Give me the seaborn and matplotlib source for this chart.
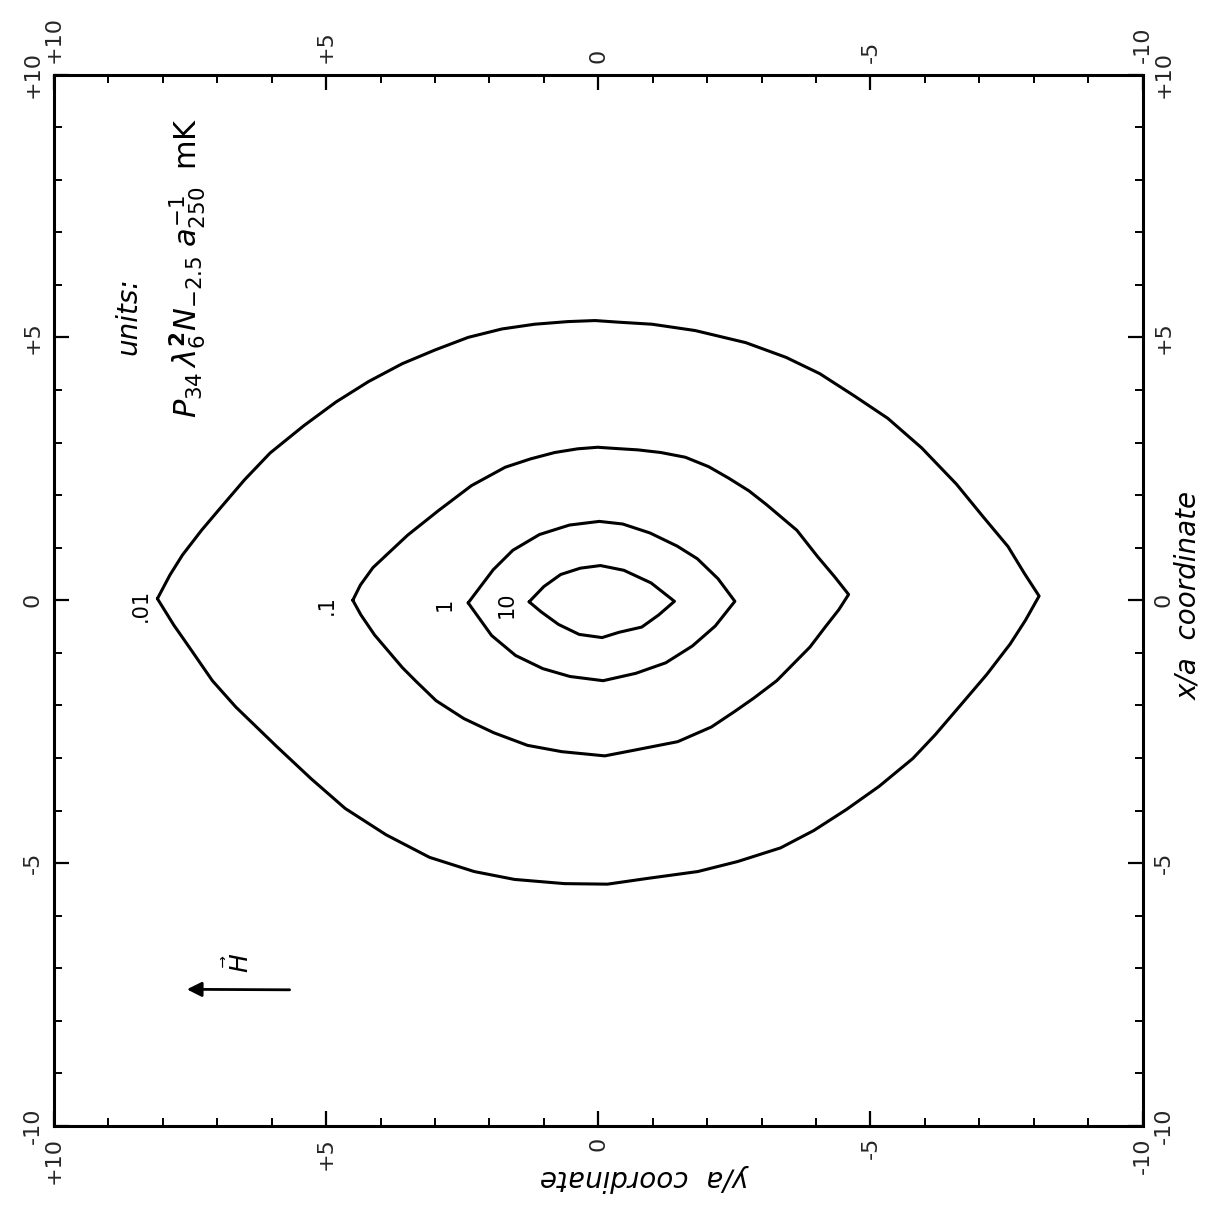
import numpy as np
import pandas as pd
import matplotlib
matplotlib.use("Agg")
import matplotlib.pyplot as plt
import seaborn as sns
from matplotlib.ticker import MultipleLocator

# Contour levels, in units of P34 λ6^2 N-2.5 a250^-1 mK
levels = [".01", ".1", "1", "10"]

# Points along each closed contour: ya = y/a (horizontal), xa = x/a (vertical)
ya_001 = [8.10, 7.87, 7.64, 7.29, 6.93, 6.50, 6.03, 5.41, 4.82, 4.22, 3.60, 3.00, 2.39,
          1.77, 1.17, 0.56, 0.06, -0.36, -0.99, -1.78, -2.71, -3.45, -4.07, -4.70, -5.32,
          -5.94, -6.58, -7.07, -7.53, -7.83, -8.10,
          -7.85, -7.57, -7.14, -6.67, -6.19, -5.78, -5.16, -4.56, -3.96, -3.35, -2.56,
          -1.83, -0.91, -0.17, 0.62, 1.54, 2.28, 3.10, 3.90, 4.65, 5.27, 5.91, 6.28,
          6.66, 7.09, 7.47, 7.80]
xa_001 = [0.03, 0.48, 0.86, 1.33, 1.77, 2.29, 2.80, 3.32, 3.77, 4.16, 4.50, 4.76, 5.00,
          5.16, 5.25, 5.30, 5.32, 5.29, 5.25, 5.13, 4.90, 4.62, 4.31, 3.89, 3.46,
          2.90, 2.21, 1.59, 1.02, 0.51, 0.08,
          -0.38, -0.83, -1.41, -1.98, -2.56, -3.01, -3.54, -3.98, -4.38, -4.71, -4.97,
          -5.16, -5.29, -5.40, -5.39, -5.31, -5.16, -4.89, -4.46, -3.96, -3.40, -2.78, -2.41,
          -2.03, -1.53, -0.96, -0.47]

ya_01 = [4.51, 4.37, 4.14, 3.80, 3.50, 2.93, 2.33, 1.71, 1.24, 0.80, 0.38, 0.01, -0.27,
         -0.73, -1.15, -1.60, -2.03, -2.40, -2.77, -3.09, -3.65, -4.03, -4.34, -4.60,
         -4.42, -4.17, -3.89, -3.28, -2.86, -2.50, -2.08, -1.46, -0.67, -0.12,
         0.67, 1.30, 1.92, 2.47, 2.98, 3.35, 3.60, 4.11, 4.36]
xa_01 = [0.00, 0.29, 0.62, 0.95, 1.24, 1.71, 2.18, 2.53, 2.69, 2.81, 2.88, 2.91, 2.89,
         2.86, 2.81, 2.72, 2.54, 2.32, 2.08, 1.82, 1.33, 0.83, 0.45, 0.11,
         -0.18, -0.51, -0.89, -1.53, -1.86, -2.12, -2.41, -2.69, -2.85, -2.96,
         -2.88, -2.76, -2.52, -2.25, -1.91, -1.54, -1.28, -0.66, -0.28]

ya_1 = [2.39, 1.93, 1.57, 1.08, 0.53, -0.02, -0.45, -0.95, -1.45, -1.82, -2.20, -2.51,
        -2.15, -1.73, -1.24, -0.69, -0.09, 0.52, 1.02, 1.52, 1.96]
xa_1 = [-0.05, 0.58, 0.95, 1.25, 1.43, 1.50, 1.45, 1.28, 1.03, 0.79, 0.41, -0.02,
        -0.49, -0.87, -1.19, -1.39, -1.53, -1.45, -1.30, -1.05, -0.67]

ya_10 = [1.27, 1.00, 0.69, 0.33, -0.04, -0.47, -0.97, -1.40,
         -1.11, -0.80, -0.38, -0.07, 0.35, 0.73, 1.05]
xa_10 = [-0.03, 0.26, 0.49, 0.61, 0.66, 0.57, 0.33, -0.02,
         -0.28, -0.51, -0.61, -0.71, -0.65, -0.46, -0.22]

# Where each level is written, just outside the left cusp
label_ya = [8.40, 4.98, 2.82, 1.69]
label_xa = [-0.10, -0.10, -0.08, -0.08]

# Field direction arrow (tail, head) and its label
arrow_tail = (5.62, -7.41)
arrow_head = (7.61, -7.40)
h_label = (6.61, -6.89)

tick_major = [10, 5, 0, -5, -10]
tick_text = ["+10", "+5", "0", "-5", "-10"]

frames = []
for lev, ya, xa in zip(levels, [ya_001, ya_01, ya_1, ya_10], [xa_001, xa_01, xa_1, xa_10]):
    ya_c = list(ya) + [ya[0]]
    xa_c = list(xa) + [xa[0]]
    frames.append(pd.DataFrame({"ya": ya_c, "xa": xa_c, "level": lev,
                                "step": np.arange(len(ya_c))}))
df = pd.concat(frames, ignore_index=True)

sns.set_theme(style="ticks")
plt.rcParams["font.family"] = ["DejaVu Sans"]
plt.rcParams["mathtext.fontset"] = "dejavusans"

W, H = 1227, 1206
fig = plt.figure(figsize=(W / 100, H / 100), dpi=100, facecolor="white")
ax = fig.add_axes([54 / W, 1 - 1126 / H, (1142.5 - 54) / W, (1126 - 74.5) / H])
ax.set_facecolor("white")

sns.lineplot(data=df, x="ya", y="xa", units="level", estimator=None, sort=False,
             color="black", lw=2.2, ax=ax, legend=False)
for line in ax.get_lines():
    line.set_solid_joinstyle("round")

ax.set_xlim(10, -10)
ax.set_ylim(-10, 10)

for spine in ax.spines.values():
    spine.set_visible(True)
    spine.set_linewidth(2.2)
    spine.set_color("black")

ax.set_xticks(tick_major)
ax.set_xticklabels(tick_text)
ax.set_yticks(tick_major)
ax.set_yticklabels(tick_text)
ax.xaxis.set_minor_locator(MultipleLocator(1))
ax.yaxis.set_minor_locator(MultipleLocator(1))
ax.tick_params(which="both", direction="in", top=True, right=True, bottom=True, left=True,
               labeltop=True, labelright=True, labelbottom=True, labelleft=True,
               color="black", labelsize=16, pad=8)
ax.tick_params(which="major", length=11, width=1.6)
ax.tick_params(which="minor", length=6, width=1.4)
for lab in ax.get_xticklabels(which="major"):
    lab.set_rotation(90)
for lab in ax.get_yticklabels(which="major"):
    lab.set_rotation(90)
    lab.set_verticalalignment("center")
ax.set_xlabel("")
ax.set_ylabel("")

# Level labels
for txt, xv, yv in zip(levels, label_ya, label_xa):
    ax.text(xv, yv, txt, rotation=90, ha="center", va="center", fontsize=15,
            color="black")

# Field direction
ax.annotate("", xy=arrow_head, xytext=arrow_tail,
            arrowprops=dict(arrowstyle="-|>", color="black", lw=2.0, mutation_scale=22))
ax.text(h_label[0], h_label[1], r"$\vec{H}$", rotation=90, ha="center", va="center",
        fontsize=18, color="black")

# Units annotation
ax.text(8.63, 5.40, "units:", rotation=90, ha="center", va="center", fontsize=20,
        style="italic", color="black")
ax.text(7.55, 6.33,
        r"$P_{34}\,\lambda_6^{\mathbf{2}}N_{-2.5}\;a_{250}^{-1}\;\;\mathrm{mK}$",
        rotation=90, ha="center", va="center", fontsize=22, color="black")

# Axis titles
fig.text(1188 / W, 1 - 595 / H, "x/a  coordinate", rotation=90, ha="center",
         va="center", fontsize=20, style="italic", color="black")
fig.text(645 / W, 1 - 1178 / H, "y/a  coordinate", rotation=180, ha="center",
         va="center", fontsize=20, style="italic", color="black")

fig.savefig("out.png", dpi=100, facecolor="white")
